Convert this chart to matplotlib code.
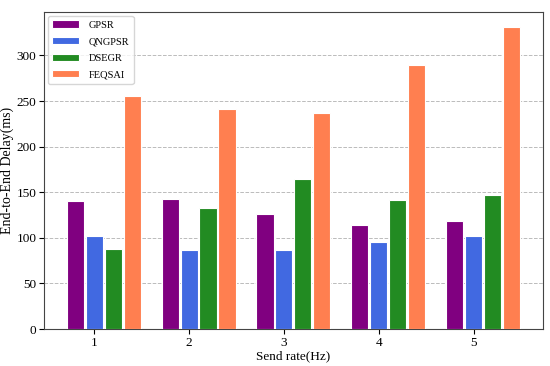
import numpy as np
import matplotlib.pyplot as plt

plt.rcParams['font.family'] = ['Liberation Serif', 'DejaVu Serif']

rates = [1, 2, 3, 4, 5]
gpsr = [140, 143, 126, 114, 118]
qngpsr = [102, 87, 87, 95, 102]
dsegr = [88, 133, 165, 142, 147]
feqsai = [255, 241, 237, 289, 331]

names = ['GPSR', 'QNGPSR', 'DSEGR', 'FEQSAI']
colors = ['purple', 'royalblue', 'forestgreen', 'coral']

fig = plt.figure(figsize=(5.5, 3.66), dpi=100)
ax = fig.add_axes([0.08, 0.101, 0.907, 0.866])

x = np.array(rates)
w = 0.2
for i, vals in enumerate([gpsr, qngpsr, dsegr, feqsai]):
    ax.bar(x + (i - 1) * w, vals, 0.18, color=colors[i], edgecolor='white',
           linewidth=0.8, label=names[i], zorder=3)

ax.set_xticks(rates)
ax.yaxis.grid(True, linestyle='--', color='#bbbbbb', linewidth=0.7, zorder=0)
ax.set_xlabel('Send rate(Hz)', fontsize=9.5, labelpad=1)
ax.set_ylabel('End-to-End Delay(ms)', fontsize=10, labelpad=2)
ax.tick_params(labelsize=9.5, pad=2)
for s in ax.spines.values():
    s.set_color('#444444')
ax.legend(loc='upper left', fontsize=7.5, handlelength=2.6, labelspacing=0.7,
          handletextpad=0.9, borderaxespad=0.4)

plt.savefig('out.png')
